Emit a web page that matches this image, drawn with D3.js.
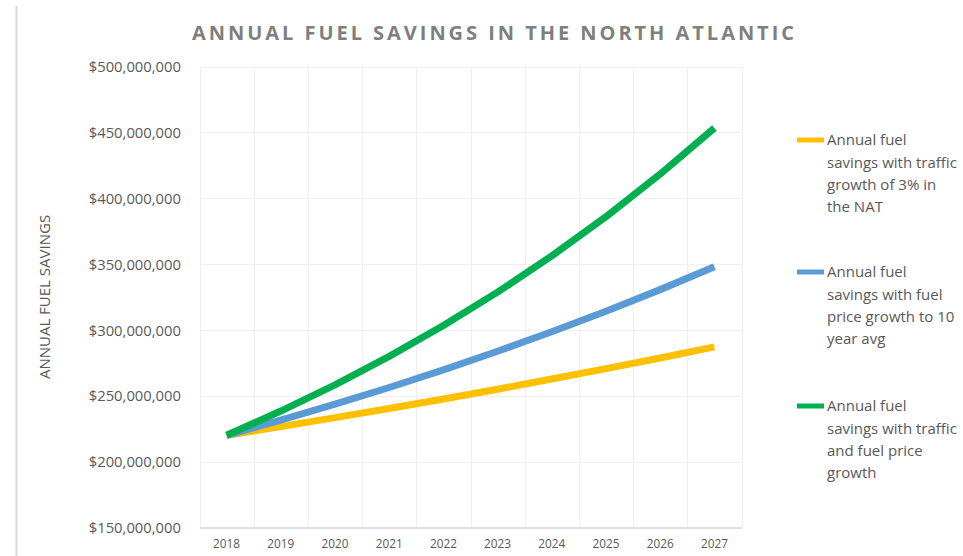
<!DOCTYPE html>
<html>
<head>
<meta charset="utf-8">
<script src="https://cdn.jsdelivr.net/npm/d3@7"></script>
<style>
  html, body { margin: 0; padding: 0; background: #fff; }
  svg { display: block; }
</style>
</head>
<body>
<svg id="chart" width="963" height="556"></svg>
<script>
// Years on the category axis
const years = ["2018", "2019", "2020", "2021", "2022", "2023", "2024", "2025", "2026", "2027"];

// Annual fuel savings, US dollars
const trafficGrowth = [220e6, 226.6e6, 233.4e6, 240.4e6, 247.6e6, 255.0e6, 262.7e6, 270.6e6, 278.7e6, 287.1e6];
const fuelPriceGrowth = [220e6, 231.5e6, 243.6e6, 256.3e6, 269.7e6, 283.8e6, 298.6e6, 314.2e6, 330.6e6, 347.9e6];
const trafficAndFuelGrowth = [220e6, 238.4e6, 258.3e6, 279.9e6, 303.3e6, 328.7e6, 356.2e6, 386.0e6, 418.3e6, 453.3e6];

const yTicks = [150e6, 200e6, 250e6, 300e6, 350e6, 400e6, 450e6, 500e6];

const seriesNames = [
  ["Annual fuel", "savings with traffic", "growth of 3% in", "the NAT"],
  ["Annual fuel", "savings with fuel", "price growth to 10", "year avg"],
  ["Annual fuel", "savings with traffic", "and fuel price", "growth"]
];
const seriesColors = ["#FFC000", "#5B9BD5", "#00B050"];
const seriesValues = [trafficGrowth, fuelPriceGrowth, trafficAndFuelGrowth];

const svg = d3.select("#chart");
const font = "'Open Sans', 'Noto Sans', sans-serif";

const plot = { left: 199.5, right: 741.5, top: 66.5, bottom: 527.5 };

const x = d3.scaleBand().domain(years).range([plot.left, plot.right]).paddingInner(0).paddingOuter(0);
const y = d3.scaleLinear().domain([150e6, 500e6]).range([plot.bottom, plot.top]);

// Thin frame line on the far left
svg.append("line")
  .attr("x1", 16.5).attr("x2", 16.5).attr("y1", 6).attr("y2", 556)
  .attr("stroke", "#d9d9d9").attr("stroke-width", 2);

// Title
svg.append("text")
  .attr("x", 493).attr("y", 40)
  .attr("text-anchor", "middle")
  .attr("font-family", font)
  .attr("font-size", 20)
  .attr("font-weight", "bold")
  .attr("textLength", 602)
  .attr("lengthAdjust", "spacing")
  .attr("fill", "#7f7f7f")
  .text("ANNUAL FUEL SAVINGS IN THE NORTH ATLANTIC");

// Horizontal gridlines
svg.append("g")
  .selectAll("line")
  .data(yTicks.filter(t => t !== 150e6))
  .join("line")
  .attr("x1", plot.left).attr("x2", plot.right)
  .attr("y1", d => Math.round(y(d)) + 0.5).attr("y2", d => Math.round(y(d)) + 0.5)
  .attr("stroke", "#efefef").attr("stroke-width", 1);

// Vertical gridlines between categories
const bounds = years.map(d => x(d)).concat([plot.right]);
svg.append("g")
  .selectAll("line")
  .data(bounds)
  .join("line")
  .attr("x1", d => Math.round(d) + 0.5).attr("x2", d => Math.round(d) + 0.5)
  .attr("y1", plot.top).attr("y2", plot.bottom)
  .attr("stroke", "#efefef").attr("stroke-width", 1);

// Y axis
const yAxis = d3.axisLeft(y)
  .tickValues(yTicks)
  .tickSize(0)
  .tickPadding(0)
  .tickFormat(d => "$" + d3.format(",")(d));
const gy = svg.append("g").attr("transform", `translate(181,0)`).call(yAxis);
gy.select(".domain").remove();
gy.selectAll("text")
  .attr("font-family", font)
  .attr("font-size", 14.8)
  .attr("fill", "#595959")
  .attr("dy", "0.35em");

// X axis
const xAxis = d3.axisBottom(x).tickSize(0).tickPadding(0);
const gx = svg.append("g").attr("transform", `translate(0,${plot.bottom})`).call(xAxis);
gx.select(".domain").attr("stroke", "#d9d9d9").attr("stroke-width", 1.5);
gx.selectAll("text")
  .attr("font-family", font)
  .attr("font-size", 11.8)
  .attr("fill", "#595959")
  .attr("y", 16)
  .attr("dy", "0.35em");

// Y axis title
svg.append("text")
  .attr("transform", `translate(50,297) rotate(-90)`)
  .attr("text-anchor", "middle")
  .attr("font-family", font)
  .attr("font-size", 15)
  .attr("fill", "#595959")
  .text("ANNUAL FUEL SAVINGS");

// Series lines
const line = d3.line()
  .x((d, i) => x(years[i]) + x.bandwidth() / 2)
  .y(d => y(d));

svg.append("g")
  .selectAll("path")
  .data(seriesValues)
  .join("path")
  .attr("d", d => line(d))
  .attr("fill", "none")
  .attr("stroke", (d, i) => seriesColors[i])
  .attr("stroke-width", 7)
  .attr("stroke-linejoin", "round")
  .attr("stroke-linecap", "butt");

// Legend
const legendTop = [140, 272, 406];
const legend = svg.append("g");
seriesNames.forEach((lines, i) => {
  const g = legend.append("g").attr("transform", `translate(797,${legendTop[i]})`);
  g.append("line")
    .attr("x1", 0).attr("x2", 27).attr("y1", 0).attr("y2", 0)
    .attr("stroke", seriesColors[i]).attr("stroke-width", 5);
  g.append("text")
    .attr("font-family", font)
    .attr("font-size", 15)
    .attr("fill", "#595959")
    .selectAll("tspan")
    .data(lines)
    .join("tspan")
    .attr("x", 30)
    .attr("y", (d, j) => j * 22.3)
    .attr("dy", "0.35em")
    .text(d => d);
});
</script>
</body>
</html>
